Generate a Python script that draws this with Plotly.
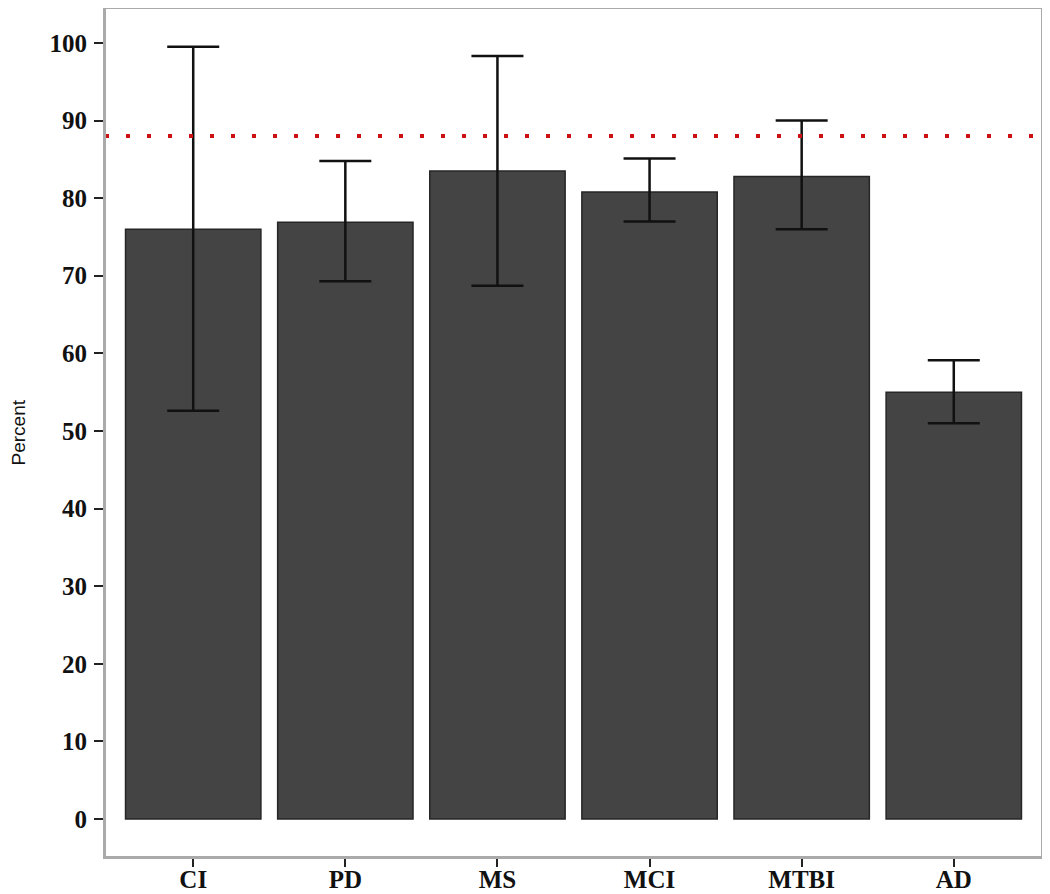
import plotly.graph_objects as go

categories = ["CI", "PD", "MS", "MCI", "MTBI", "AD"]
values = [76.0, 76.9, 83.5, 80.8, 82.8, 55.0]
upper = [99.5, 84.8, 98.3, 85.1, 90.0, 59.1]
lower = [52.6, 69.3, 68.7, 77.0, 76.0, 51.0]
reference_line = 88.0
y_ticks = [0, 10, 20, 30, 40, 50, 60, 70, 80, 90, 100]

err_plus = [u - v for u, v in zip(upper, values)]
err_minus = [v - l for v, l in zip(values, lower)]

fig = go.Figure()
fig.add_trace(go.Bar(
    x=categories, y=values,
    width=0.89,
    marker=dict(color="#444444", line=dict(color="#262626", width=1.5)),
    error_y=dict(type="data", symmetric=False, array=err_plus, arrayminus=err_minus,
                 color="#111111", thickness=2.5, width=26),
))

fig.add_shape(type="line", xref="paper", x0=0, x1=1, yref="y", y0=reference_line, y1=reference_line,
              line=dict(color="#cc1111", width=4, dash="4px,17px"))
fig.add_shape(type="rect", xref="paper", yref="paper", x0=0, x1=1, y0=0, y1=1,
              line=dict(color="#aaaaaa", width=2), fillcolor="rgba(0,0,0,0)", layer="above")

yfont = dict(family="Liberation Serif", size=25, color="#111111", weight="bold")
xfont = dict(family="Liberation Serif", size=25, color="#111111", weight="bold")

fig.add_annotation(text="Percent", xref="paper", yref="paper", x=0, y=0.5, xshift=-87,
                   xanchor="center", yanchor="middle", textangle=-90, showarrow=False,
                   font=dict(family="Liberation Sans", size=19, color="#111111"))

fig.update_layout(
    width=1042, height=886,
    margin=dict(l=97, r=8, t=0, b=37),
    paper_bgcolor="white", plot_bgcolor="white",
    showlegend=False,
    xaxis=dict(range=[-0.58, 5.58], showline=True, mirror=True, linecolor="#aaaaaa", linewidth=2,
               ticks="outside", ticklen=8, tickwidth=2, tickcolor="#222222", automargin=False,
               ticklabelstandoff=-9,
               tickfont=xfont, showgrid=False, zeroline=False),
    yaxis=dict(range=[-4.9, 104.5], tickvals=y_ticks, showline=True, mirror=True,
               linecolor="#aaaaaa", linewidth=2, automargin=False,
               ticks="outside", ticklen=9, tickwidth=2, tickcolor="#222222",
               ticklabelstandoff=2,
               tickfont=yfont, showgrid=False, zeroline=False),
)

fig.write_html("out.html")
